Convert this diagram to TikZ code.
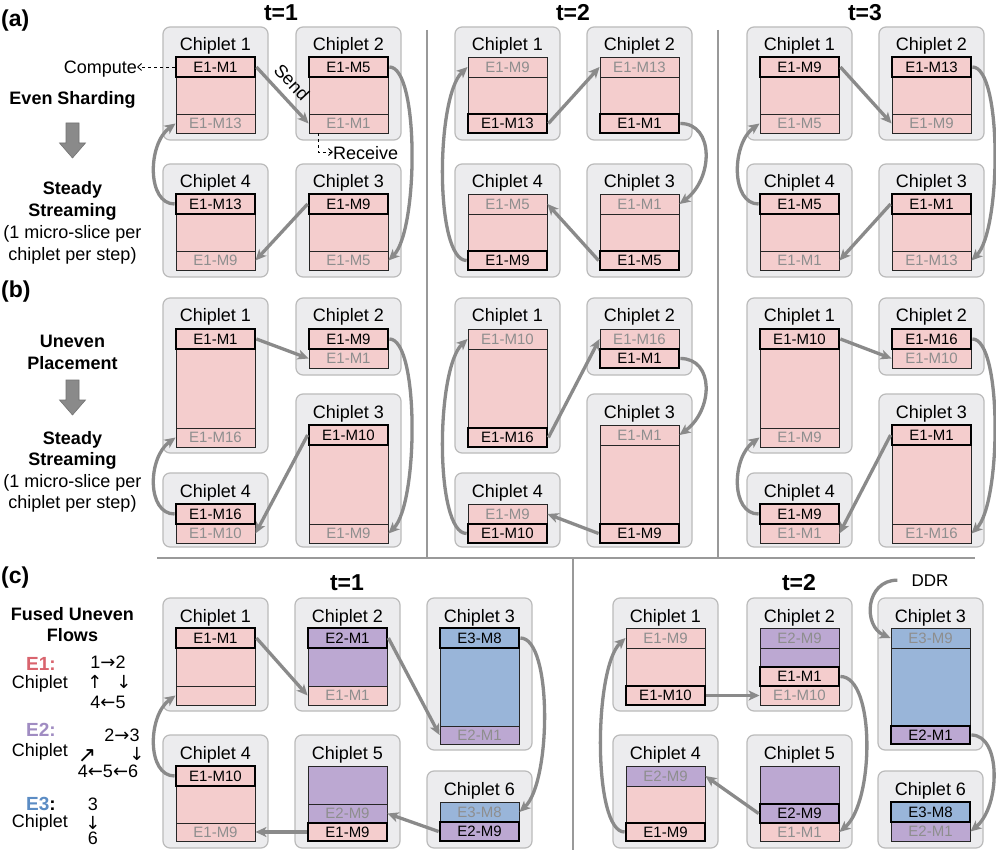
\documentclass[tikz,border=0pt]{standalone}
\usepackage{fontspec}
\setmainfont{Liberation Sans}
\newfontfamily\arrf{DejaVu Sans}
\usetikzlibrary{arrows.meta}
\definecolor{boxfill}{HTML}{ECECEE}
\definecolor{boxline}{HTML}{BBBBBB}
\definecolor{cred}{HTML}{F4CDCD}
\definecolor{cpur}{HTML}{BCA8D2}
\definecolor{cblu}{HTML}{99B5D9}
\definecolor{dimtxt}{HTML}{8E8E8E}
\definecolor{arrc}{HTML}{8A8A8A}
\definecolor{sepc}{HTML}{999999}
\definecolor{lred}{HTML}{D9646E}
\definecolor{lpur}{HTML}{A08CC2}
\definecolor{lblu}{HTML}{5B8CC4}
\tikzset{
 chipbox/.style={draw=boxline, fill=boxfill, rounded corners=7pt, line width=1.2pt, minimum width=105pt, inner sep=0},
 chiptitle/.style={anchor=base, inner sep=0, font=\fontsize{18}{20}\selectfont},
 rowbox/.style={draw=black!85, line width=0.9pt, minimum width=79pt, inner sep=0, font=\fontsize{15}{15}\selectfont},
 act/.style={line width=2.8pt, draw=black},
 dim/.style={text=dimtxt},
 flow/.style={draw=arrc, line width=3.3pt, -{Stealth[length=11pt,width=10pt,inset=3pt]}},
 lbl/.style={anchor=base, inner sep=0, font=\fontsize{18}{20}\selectfont},
 blbl/.style={anchor=base, inner sep=0, font=\fontsize{18}{20}\selectfont\bfseries},
 ttl/.style={anchor=base, inner sep=0, font=\fontsize{23}{25}\selectfont\bfseries},
 sepline/.style={draw=sepc, line width=1.5pt},
 bigarrow/.style={fill=arrc, draw=black!55, line width=0.6pt},
 note/.style={draw=black, line width=0.9pt, dashed, -{Straight Barb[length=4pt,width=7pt]}},
}
\newcommand\chipbx[5]{\node[chipbox, minimum height={(#4)-(#3)}] (#1) at ({#2+52.5},{((#3)+(#4))/2}) {};
 \node[chiptitle] (#1t) at ({#2+52.5},{#3+24}) {#5};}
\newcommand\crow[7]{\node[rowbox, fill=#5, minimum height={(#4)-(#3)}, #6] (#1) at ({#2+52.5},{((#3)+(#4))/2}) {#7};}
\newcommand\chipAtop[6]{\chipbx{#1}{#2}{#3}{#3+113}{#4}
 \crow{#1r2}{#2}{#3+50}{#3+87}{cred}{}{}
 \crow{#1r3}{#2}{#3+87}{#3+106}{cred}{dim}{#6}
 \crow{#1r1}{#2}{#3+30}{#3+50}{cred}{act}{#5}}
\newcommand\chipAbot[6]{\chipbx{#1}{#2}{#3}{#3+113}{#4}
 \crow{#1r2}{#2}{#3+50}{#3+87}{cred}{}{}
 \crow{#1r1}{#2}{#3+30}{#3+50}{cred}{dim}{#5}
 \crow{#1r3}{#2}{#3+87}{#3+106}{cred}{act}{#6}}
\begin{document}
\begin{tikzpicture}[x=1pt,y=-1pt]
\useasboundingbox (0,0) rectangle (996,850);
\fill[white] (0,0) rectangle (996,850);
% separators
\draw[sepline] (427,30) -- (427,558);
\draw[sepline] (718,30) -- (718,558);
\draw[sepline] (157,558) -- (975,558);
\draw[sepline] (573,558) -- (573,850);
% ---------- panel (a)
\node[ttl, anchor=base west] (pa) at (1,27) {(a)};
\node[ttl] (ta1) at (281,21) {t=1};
\node[ttl] (ta2) at (573,21) {t=2};
\node[ttl] (ta3) at (865,21) {t=3};
\node[blbl] (even) at (72.5,105) {Even Sharding};
\fill[bigarrow] (66,123) -- (79,123) -- (79,143) -- (85.5,143) -- (72.5,158) -- (59.5,143) -- (66,143) -- cycle;
\node[blbl] (stA1) at (72.5,195) {Steady};
\node[blbl] (stA2) at (72.5,217) {Streaming};
\node[lbl] (stA3) at (72.5,239) {(1 micro-slice per};
\node[lbl] (stA4) at (72.5,261) {chiplet per step)};
% t=1
\chipAtop{a1c1}{163}{27}{Chiplet 1}{E1-M1}{E1-M13}
\chipAtop{a1c2}{296}{27}{Chiplet 2}{E1-M5}{E1-M1}
\chipAtop{a1c4}{163}{164}{Chiplet 4}{E1-M13}{E1-M9}
\chipAtop{a1c3}{296}{164}{Chiplet 3}{E1-M9}{E1-M5}
% t=2
\chipAbot{a2c1}{455}{27}{Chiplet 1}{E1-M9}{E1-M13}
\chipAbot{a2c2}{587}{27}{Chiplet 2}{E1-M13}{E1-M1}
\chipAbot{a2c4}{455}{164}{Chiplet 4}{E1-M5}{E1-M9}
\chipAbot{a2c3}{587}{164}{Chiplet 3}{E1-M1}{E1-M5}
% t=3
\chipAtop{a3c1}{747}{27}{Chiplet 1}{E1-M9}{E1-M5}
\chipAtop{a3c2}{879}{27}{Chiplet 2}{E1-M13}{E1-M9}
\chipAtop{a3c4}{747}{164}{Chiplet 4}{E1-M5}{E1-M1}
\chipAtop{a3c3}{879}{164}{Chiplet 3}{E1-M1}{E1-M13}
% notes
\node[lbl, anchor=base east] (compute) at (137,73.5) {Compute};
\draw[note] (a1c1r1.west) -- (a1c1r1.west -| compute.east);
\node[lbl, anchor=base west] (receive) at (333,159.5) {Receive};
\coordinate (rc) at (318,152);
\draw[note] (a1c2r3.south -| rc) -- (rc) -- (rc -| receive.west);
\node[lbl, anchor=center, rotate=-47] (send) at (292,82) {Send};
% ---------- panel (b)
\node[ttl, anchor=base west] (pb) at (1,298) {(b)};
\node[blbl] (unev1) at (72.5,348) {Uneven};
\node[blbl] (unev2) at (72.5,369) {Placement};
\fill[bigarrow] (66,380) -- (79,380) -- (79,400) -- (85.5,400) -- (72.5,415) -- (59.5,400) -- (66,400) -- cycle;
\node[blbl] (stB1) at (72.5,444) {Steady};
\node[blbl] (stB2) at (72.5,465) {Streaming};
\node[lbl] (stB3) at (72.5,487) {(1 micro-slice per};
\node[lbl] (stB4) at (72.5,508) {chiplet per step)};
% t=1
\chipbx{b1c1}{163}{298}{453}{Chiplet 1}
\crow{b1c1r2}{163}{349}{428}{cred}{}{}
\crow{b1c1r3}{163}{428}{447}{cred}{dim}{E1-M16}
\crow{b1c1r1}{163}{329}{349}{cred}{act}{E1-M1}
\chipbx{b1c2}{296}{298}{375}{Chiplet 2}
\crow{b1c2r2}{296}{349}{368}{cred}{dim}{E1-M1}
\crow{b1c2r1}{296}{329}{349}{cred}{act}{E1-M9}
\chipbx{b1c3}{296}{394}{547}{Chiplet 3}
\crow{b1c3r2}{296}{445}{524}{cred}{}{}
\crow{b1c3r3}{296}{524}{543}{cred}{dim}{E1-M9}
\crow{b1c3r1}{296}{425}{445}{cred}{act}{E1-M10}
\chipbx{b1c4}{163}{473}{547}{Chiplet 4}
\crow{b1c4r2}{163}{524}{543}{cred}{dim}{E1-M10}
\crow{b1c4r1}{163}{504}{524}{cred}{act}{E1-M16}
% t=2
\chipbx{b2c1}{455}{298}{453}{Chiplet 1}
\crow{b2c1r2}{455}{349}{428}{cred}{}{}
\crow{b2c1r1}{455}{329}{349}{cred}{dim}{E1-M10}
\crow{b2c1r3}{455}{428}{447}{cred}{act}{E1-M16}
\chipbx{b2c2}{587}{298}{375}{Chiplet 2}
\crow{b2c2r1}{587}{329}{349}{cred}{dim}{E1-M16}
\crow{b2c2r2}{587}{349}{368}{cred}{act}{E1-M1}
\chipbx{b2c3}{587}{394}{547}{Chiplet 3}
\crow{b2c3r2}{587}{445}{524}{cred}{}{}
\crow{b2c3r1}{587}{425}{445}{cred}{dim}{E1-M1}
\crow{b2c3r3}{587}{524}{543}{cred}{act}{E1-M9}
\chipbx{b2c4}{455}{473}{547}{Chiplet 4}
\crow{b2c4r1}{455}{504}{524}{cred}{dim}{E1-M9}
\crow{b2c4r2}{455}{524}{543}{cred}{act}{E1-M10}
% t=3
\chipbx{b3c1}{747}{298}{453}{Chiplet 1}
\crow{b3c1r2}{747}{349}{428}{cred}{}{}
\crow{b3c1r3}{747}{428}{447}{cred}{dim}{E1-M9}
\crow{b3c1r1}{747}{329}{349}{cred}{act}{E1-M10}
\chipbx{b3c2}{879}{298}{375}{Chiplet 2}
\crow{b3c2r2}{879}{349}{368}{cred}{dim}{E1-M10}
\crow{b3c2r1}{879}{329}{349}{cred}{act}{E1-M16}
\chipbx{b3c3}{879}{394}{547}{Chiplet 3}
\crow{b3c3r2}{879}{445}{524}{cred}{}{}
\crow{b3c3r3}{879}{524}{543}{cred}{dim}{E1-M16}
\crow{b3c3r1}{879}{425}{445}{cred}{act}{E1-M1}
\chipbx{b3c4}{747}{473}{547}{Chiplet 4}
\crow{b3c4r2}{747}{524}{543}{cred}{dim}{E1-M1}
\crow{b3c4r1}{747}{504}{524}{cred}{act}{E1-M9}
% ---------- panel (c)
\node[ttl, anchor=base west] (pc) at (1,583) {(c)};
\node[ttl] (tc1) at (347,590) {t=1};
\node[ttl] (tc2) at (799,590) {t=2};
\node[blbl] (fused1) at (72.5,620) {Fused Uneven};
\node[blbl] (fused2) at (72.5,641) {Flows};
\node[blbl, font=\fontsize{19}{20}\selectfont\bfseries, text=lred] (e1) at (41,670) {E1:};
\node[lbl] (e1c) at (40,688) {Chiplet};
\node[lbl] (e1a) at (108,668) {1{\arrf →}2};
\node[lbl] (e1b) at (95,688) {\arrf ↑};
\node[lbl] (e1d) at (124,688) {\arrf ↓};
\node[lbl] (e1e) at (108,708) {4{\arrf ←}5};
\node[blbl, font=\fontsize{19}{20}\selectfont\bfseries, text=lpur] (e2) at (41,736) {E2:};
\node[lbl] (e2c) at (40,756) {Chiplet};
\node[lbl] (e2a) at (122,741) {2{\arrf →}3};
\node[lbl, font=\fontsize{22}{22}\selectfont] (e2b) at (87,762) {\arrf ↗};
\node[lbl] (e2d) at (137,760) {\arrf ↓};
\node[lbl] (e2e) at (108,777) {4{\arrf ←}5{\arrf ←}6};
\node[blbl, font=\fontsize{19}{20}\selectfont\bfseries] (e3) at (41,810) {\textcolor{lblu}{E3}:};
\node[lbl] (e3c) at (40,827) {Chiplet};
\node[lbl] (e3a) at (93,810) {3};
\node[lbl] (e3b) at (93,829) {\arrf ↓};
\node[lbl] (e3d) at (93,844) {6};
% t=1
\chipbx{c1c1}{163}{598}{711}{Chiplet 1}
\crow{c1c1r2}{163}{648}{686}{cred}{}{}
\crow{c1c1r3}{163}{686}{705}{cred}{}{}
\crow{c1c1r1}{163}{628}{648}{cred}{act}{E1-M1}
\chipbx{c1c2}{295}{598}{711}{Chiplet 2}
\crow{c1c2r2}{295}{648}{686}{cpur}{}{}
\crow{c1c2r3}{295}{686}{705}{cred}{dim}{E1-M1}
\crow{c1c2r1}{295}{628}{648}{cpur}{act}{E2-M1}
\chipbx{c1c3}{427}{598}{750}{Chiplet 3}
\crow{c1c3r2}{427}{648}{726}{cblu}{}{}
\crow{c1c3r3}{427}{726}{744}{cpur}{dim}{E2-M1}
\crow{c1c3r1}{427}{628}{648}{cblu}{act}{E3-M8}
\chipbx{c1c4}{163}{735}{848}{Chiplet 4}
\crow{c1c4r2}{163}{786}{823}{cred}{}{}
\crow{c1c4r3}{163}{823}{841}{cred}{dim}{E1-M9}
\crow{c1c4r1}{163}{766}{786}{cred}{act}{E1-M10}
\chipbx{c1c5}{295}{735}{848}{Chiplet 5}
\crow{c1c5r1}{295}{766}{804}{cpur}{}{}
\crow{c1c5r2}{295}{804}{823}{cpur}{dim}{E2-M9}
\crow{c1c5r3}{295}{823}{841}{cred}{act}{E1-M9}
\chipbx{c1c6}{427}{771}{848}{Chiplet 6}
\crow{c1c6r1}{427}{802}{822}{cblu}{dim}{E3-M8}
\crow{c1c6r2}{427}{822}{841}{cpur}{act}{E2-M9}
% t=2
\node[lbl, font=\fontsize{17}{19}\selectfont] (ddr) at (930,586) {DDR};
\chipbx{c2c1}{613}{598}{711}{Chiplet 1}
\crow{c2c1r2}{613}{648}{686}{cred}{}{}
\crow{c2c1r1}{613}{628}{648}{cred}{dim}{E1-M9}
\crow{c2c1r3}{613}{686}{705}{cred}{act}{E1-M10}
\chipbx{c2c2}{747}{598}{711}{Chiplet 2}
\crow{c2c2r1}{747}{628}{648}{cpur}{dim}{E2-M9}
\crow{c2c2r2}{747}{648}{667}{cpur}{}{}
\crow{c2c2r4}{747}{686}{705}{cred}{dim}{E1-M10}
\crow{c2c2r3}{747}{667}{686}{cred}{act}{E1-M1}
\chipbx{c2c3}{878}{598}{750}{Chiplet 3}
\crow{c2c3r2}{878}{648}{726}{cblu}{}{}
\crow{c2c3r1}{878}{628}{648}{cblu}{dim}{E3-M9}
\crow{c2c3r3}{878}{726}{744}{cpur}{act}{E2-M1}
\chipbx{c2c4}{613}{735}{848}{Chiplet 4}
\crow{c2c4r1}{613}{766}{786}{cpur}{dim}{E2-M9}
\crow{c2c4r2}{613}{786}{823}{cred}{}{}
\crow{c2c4r3}{613}{823}{841}{cred}{act}{E1-M9}
\chipbx{c2c5}{747}{735}{848}{Chiplet 5}
\crow{c2c5r1}{747}{766}{804}{cpur}{}{}
\crow{c2c5r3}{747}{823}{841}{cred}{dim}{E1-M1}
\crow{c2c5r2}{747}{804}{823}{cpur}{act}{E2-M9}
\chipbx{c2c6}{878}{771}{848}{Chiplet 6}
\crow{c2c6r2}{878}{822}{841}{cpur}{dim}{E2-M1}
\crow{c2c6r1}{878}{802}{822}{cblu}{act}{E3-M8}
% ---------- connectors (a)
\draw[flow] (a1c1r1.east) -- (a1c2r3.west);
\draw[flow] (a1c2r1.east) .. controls +(30,0) and +(30,-30) .. (a1c3r3.east);
\draw[flow] (a1c3r1.west) -- (a1c4r3.east);
\draw[flow] (a1c4r1.west) .. controls +(-28,0) and +(-28,20) .. (a1c1r3.west);
\draw[flow] (a2c1r3.east) -- (a2c2r1.west);
\draw[flow] (a2c2r3.east) .. controls +(34,0) and +(34,-25) .. (a2c3r1.east);
\draw[flow] (a2c3r3.west) -- (a2c4r1.east);
\draw[flow] (a2c4r3.west) .. controls +(-32,0) and +(-32,30) .. (a2c1r1.west);
\draw[flow] (a3c1r1.east) -- (a3c2r3.west);
\draw[flow] (a3c2r1.east) .. controls +(30,0) and +(30,-30) .. (a3c3r3.east);
\draw[flow] (a3c3r1.west) -- (a3c4r3.east);
\draw[flow] (a3c4r1.west) .. controls +(-28,0) and +(-28,20) .. (a3c1r3.west);
% connectors (b)
\draw[flow] (b1c1r1.east) -- (b1c2r2.west);
\draw[flow] (b1c2r1.east) .. controls +(30,0) and +(30,-30) .. (b1c3r3.east);
\draw[flow] (b1c3r1.west) -- (b1c4r2.east);
\draw[flow] (b1c4r1.west) .. controls +(-28,0) and +(-28,20) .. (b1c1r3.west);
\draw[flow] (b2c1r3.east) -- (b2c2r1.west);
\draw[flow] (b2c2r2.east) .. controls +(34,0) and +(34,-25) .. (b2c3r1.east);
\draw[flow] (b2c3r3.west) -- (b2c4r1.east);
\draw[flow] (b2c4r2.west) .. controls +(-32,0) and +(-32,30) .. (b2c1r1.west);
\draw[flow] (b3c1r1.east) -- (b3c2r2.west);
\draw[flow] (b3c2r1.east) .. controls +(30,0) and +(30,-30) .. (b3c3r3.east);
\draw[flow] (b3c3r1.west) -- (b3c4r2.east);
\draw[flow] (b3c4r1.west) .. controls +(-28,0) and +(-28,20) .. (b3c1r3.west);
% connectors (c)
\draw[flow] (c1c1r1.east) -- (c1c2r3.west);
\draw[flow] (c1c2r1.east) -- (c1c3r3.west);
\draw[flow] (c1c3r1.east) .. controls +(32,0) and +(32,-30) .. (c1c6r1.east);
\draw[flow] (c1c6r2.west) -- (c1c5r2.east);
\draw[flow] (c1c5r3.west) -- (c1c4r3.east);
\draw[flow] (c1c4r1.west) .. controls +(-28,0) and +(-28,20) .. (c1c1r3.west);
\draw[flow] (c2c1r3.east) -- (c2c2r4.west);
\draw[flow] (c2c2r3.east) .. controls +(35,0) and +(35,-30) .. (c2c5r3.east);
\draw[flow] (c2c5r2.west) -- (c2c4r1.east);
\draw[flow] (c2c4r3.west) .. controls +(-32,0) and +(-32,30) .. (c2c1r1.west);
\draw[flow] (c2c3r3.east) .. controls +(30,0) and +(30,-25) .. (c2c6r2.east);
\draw[flow] ([xshift=-14pt]ddr.west) .. controls +(-32,0) and +(-28,-12) .. (c2c3r1.west);
\end{tikzpicture}
\end{document}
